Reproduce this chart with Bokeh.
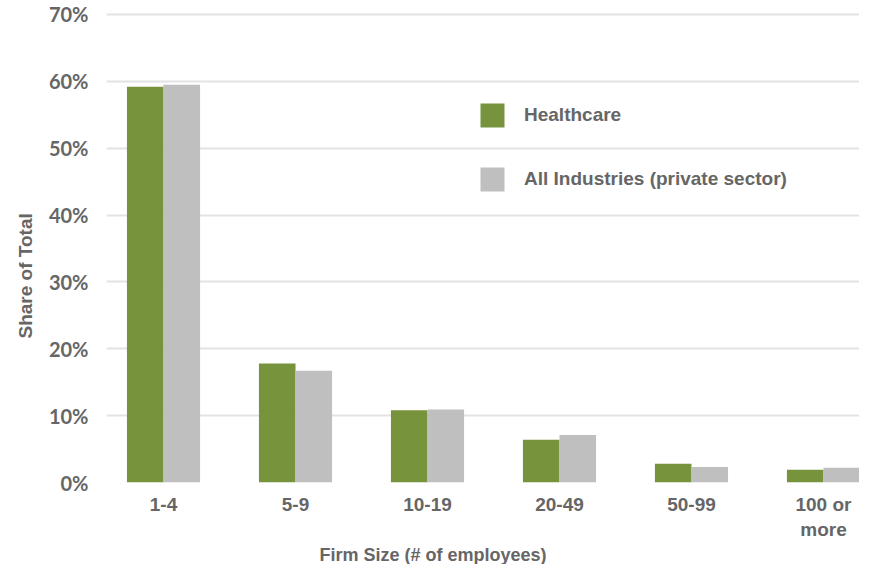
from bokeh.plotting import figure
from bokeh.models import (ColumnDataSource, Range1d, FixedTicker, Title, Legend,
                          LegendItem, PrintfTickFormatter)
from bokeh.transform import dodge
from bokeh.embed import file_html
from bokeh.resources import INLINE

categories = ["1-4", "5-9", "10-19", "20-49", "50-99", "100 or\nmore"]
healthcare = [59.2, 17.8, 10.8, 6.4, 2.8, 1.9]
all_industries = [59.5, 16.7, 10.9, 7.1, 2.3, 2.2]
y_ticks = [0, 10, 20, 30, 40, 50, 60, 70]

GREEN = "#77933C"
GRAY = "#BFBFBF"
TEXT = "#666666"

idx = list(range(len(categories)))
src = ColumnDataSource(data=dict(x=idx, hc=healthcare, ai=all_industries))

p = figure(width=859, height=564, output_backend="svg", toolbar_location=None,
           x_range=Range1d(-0.432, 5.273), y_range=Range1d(0, 70.89),
           min_border_left=106, min_border_right=0, min_border_top=8, min_border_bottom=70)
p.outline_line_color = None
p.background_fill_color = "white"
p.border_fill_color = "white"

bw = 0.277
r1 = p.vbar(x=dodge("x", -bw / 2, range=p.x_range), top="hc", width=bw, source=src,
            fill_color=GREEN, line_color=None)
r2 = p.vbar(x=dodge("x", bw / 2, range=p.x_range), top="ai", width=bw, source=src,
            fill_color=GRAY, line_color=None)

# grid
p.xgrid.grid_line_color = None
p.ygrid.grid_line_color = "#E3E3E3"
p.ygrid.grid_line_width = 2
p.ygrid.ticker = FixedTicker(ticks=y_ticks)

# y axis
ya = p.yaxis[0]
ya.ticker = FixedTicker(ticks=y_ticks)
ya.formatter = PrintfTickFormatter(format="%d%%")
ya.axis_line_color = None
ya.major_tick_line_color = None
ya.minor_tick_line_color = None
ya.major_label_text_font = "Lato"
ya.major_label_text_font_style = "bold"
ya.major_label_text_font_size = "20px"
ya.major_label_text_color = TEXT
ya.major_label_standoff = 12

# x axis
xa = p.xaxis[0]
xa.ticker = FixedTicker(ticks=idx)
xa.major_label_overrides = {i: c for i, c in zip(idx, categories)}
xa.axis_line_color = None
xa.major_tick_line_color = None
xa.minor_tick_line_color = None
xa.major_label_text_font = "Liberation Sans"
xa.major_label_text_font_style = "bold"
xa.major_label_text_font_size = "19px"
xa.major_label_text_color = TEXT
xa.major_label_standoff = 5

# axis titles
p.add_layout(Title(text="Share of Total", align="left", offset=144, standoff=20,
                   text_font="Liberation Sans", text_font_style="bold",
                   text_font_size="19px", text_color=TEXT), "left")
p.add_layout(Title(text="Firm Size (# of employees)", align="left", offset=213, standoff=0,
                   text_font="Liberation Sans", text_font_style="bold",
                   text_font_size="18px", text_color=TEXT), "below")

legend = Legend(items=[LegendItem(label="Healthcare", renderers=[r1]),
                       LegendItem(label="All Industries (private sector)", renderers=[r2])],
                location=(371, 288))
legend.glyph_width = 30
legend.glyph_height = 30
legend.label_height = 30
legend.label_standoff = 17
legend.spacing = 34
legend.padding = 0
legend.margin = 0
legend.border_line_color = None
legend.background_fill_alpha = 0
legend.label_text_font = "Liberation Sans"
legend.label_text_font_style = "bold"
legend.label_text_font_size = "19px"
legend.label_text_color = TEXT
p.add_layout(legend)

open("out.html", "w").write(file_html(p, INLINE))
